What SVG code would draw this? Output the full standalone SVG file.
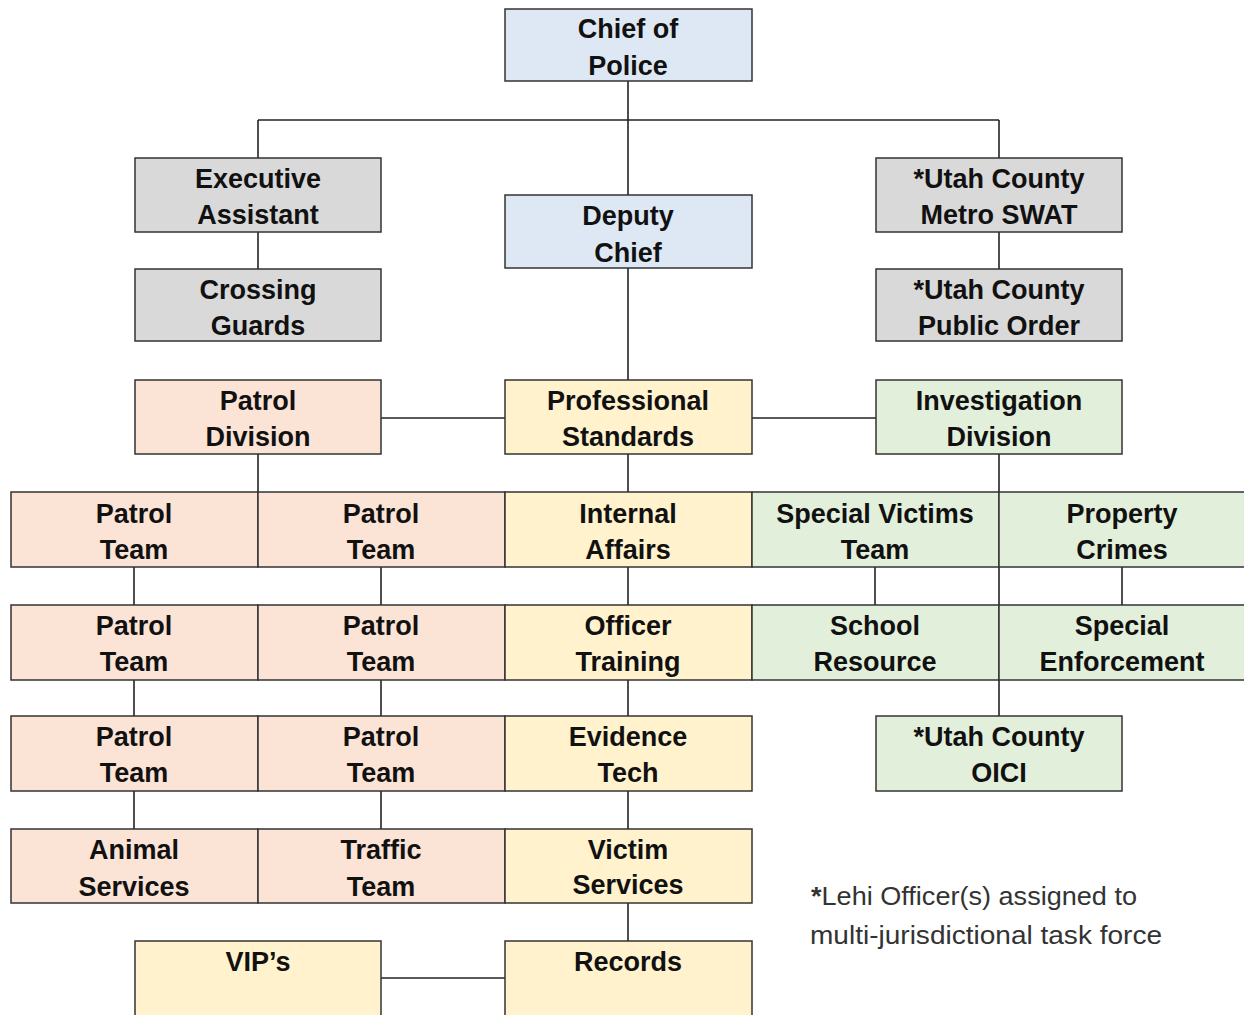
<svg xmlns="http://www.w3.org/2000/svg" width="1244" height="1015" viewBox="0 0 1244 1015">
<style>
rect{stroke:#333;stroke-width:1.5}
.b{fill:#dee8f4}.g{fill:#d9d9d9}.p{fill:#fbe3d6}.y{fill:#fff2cd}.gr{fill:#e2efda}
text{font-family:"Liberation Sans",Arial,sans-serif;font-weight:bold;font-size:27px;fill:#111;text-anchor:middle}
.c line{stroke:#222;stroke-width:1.6}
.note{font-weight:normal;font-size:26px;fill:#333;text-anchor:start}
</style>
<rect width="1244" height="1015" fill="#fff" style="stroke:none"/>
<g class="c" id="connectors">
<line x1="628" y1="81" x2="628" y2="195"/>
<line x1="258" y1="120" x2="999" y2="120"/>
<line x1="258" y1="120" x2="258" y2="158"/>
<line x1="999" y1="120" x2="999" y2="158"/>
<line x1="258" y1="232" x2="258" y2="269"/>
<line x1="999" y1="232" x2="999" y2="269"/>
<line x1="628" y1="268" x2="628" y2="380"/>
<line x1="381" y1="418" x2="505" y2="418"/>
<line x1="752" y1="418" x2="876" y2="418"/>
<line x1="258" y1="454" x2="258" y2="492"/>
<line x1="628" y1="454" x2="628" y2="492"/>
<line x1="999" y1="454" x2="999" y2="492"/>
<line x1="134" y1="567" x2="134" y2="605"/>
<line x1="381" y1="567" x2="381" y2="605"/>
<line x1="628" y1="567" x2="628" y2="605"/>
<line x1="875" y1="567" x2="875" y2="605"/>
<line x1="1122" y1="567" x2="1122" y2="605"/>
<line x1="999" y1="567" x2="999" y2="605"/>
<line x1="134" y1="680" x2="134" y2="716"/>
<line x1="381" y1="680" x2="381" y2="716"/>
<line x1="628" y1="680" x2="628" y2="716"/>
<line x1="999" y1="680" x2="999" y2="716"/>
<line x1="134" y1="791" x2="134" y2="829"/>
<line x1="381" y1="791" x2="381" y2="829"/>
<line x1="628" y1="791" x2="628" y2="829"/>
<line x1="628" y1="903" x2="628" y2="941"/>
<line x1="381" y1="978" x2="505" y2="978"/>
</g>
<g id="chief"><rect class="b" x="505" y="9" width="247" height="72"/><text x="628" y="38">Chief of</text><text x="628" y="75">Police</text></g>
<g id="exec"><rect class="g" x="135" y="158" width="246" height="74"/><text x="258" y="188">Executive</text><text x="258" y="224">Assistant</text></g>
<g id="deputy"><rect class="b" x="505" y="195" width="247" height="73"/><text x="628" y="225">Deputy</text><text x="628" y="262">Chief</text></g>
<g id="swat"><rect class="g" x="876" y="158" width="246" height="74"/><text x="999" y="188">*Utah County</text><text x="999" y="224">Metro SWAT</text></g>
<g id="crossing"><rect class="g" x="135" y="269" width="246" height="72"/><text x="258" y="299">Crossing</text><text x="258" y="335">Guards</text></g>
<g id="publicorder"><rect class="g" x="876" y="269" width="246" height="72"/><text x="999" y="299">*Utah County</text><text x="999" y="335">Public Order</text></g>
<g id="patroldiv"><rect class="p" x="135" y="380" width="246" height="74"/><text x="258" y="410">Patrol</text><text x="258" y="446">Division</text></g>
<g id="profstd"><rect class="y" x="505" y="380" width="247" height="74"/><text x="628" y="410">Professional</text><text x="628" y="446">Standards</text></g>
<g id="invdiv"><rect class="gr" x="876" y="380" width="246" height="74"/><text x="999" y="410">Investigation</text><text x="999" y="446">Division</text></g>
<g id="pt1"><rect class="p" x="11" y="492" width="247" height="75"/><text x="134" y="523">Patrol</text><text x="134" y="559">Team</text></g>
<g id="pt2"><rect class="p" x="258" y="492" width="247" height="75"/><text x="381" y="523">Patrol</text><text x="381" y="559">Team</text></g>
<g id="internal"><rect class="y" x="505" y="492" width="247" height="75"/><text x="628" y="523">Internal</text><text x="628" y="559">Affairs</text></g>
<g id="svt"><rect class="gr" x="752" y="492" width="247" height="75"/><text x="875" y="523">Special Victims</text><text x="875" y="559">Team</text></g>
<g id="property"><rect class="gr" x="999" y="492" width="250" height="75"/><text x="1122" y="523">Property</text><text x="1122" y="559">Crimes</text></g>
<g id="pt3"><rect class="p" x="11" y="605" width="247" height="75"/><text x="134" y="635">Patrol</text><text x="134" y="671">Team</text></g>
<g id="pt4"><rect class="p" x="258" y="605" width="247" height="75"/><text x="381" y="635">Patrol</text><text x="381" y="671">Team</text></g>
<g id="training"><rect class="y" x="505" y="605" width="247" height="75"/><text x="628" y="635">Officer</text><text x="628" y="671">Training</text></g>
<g id="school"><rect class="gr" x="752" y="605" width="247" height="75"/><text x="875" y="635">School</text><text x="875" y="671">Resource</text></g>
<g id="specialenf"><rect class="gr" x="999" y="605" width="250" height="75"/><text x="1122" y="635">Special</text><text x="1122" y="671">Enforcement</text></g>
<g id="pt5"><rect class="p" x="11" y="716" width="247" height="75"/><text x="134" y="746">Patrol</text><text x="134" y="782">Team</text></g>
<g id="pt6"><rect class="p" x="258" y="716" width="247" height="75"/><text x="381" y="746">Patrol</text><text x="381" y="782">Team</text></g>
<g id="evidence"><rect class="y" x="505" y="716" width="247" height="75"/><text x="628" y="746">Evidence</text><text x="628" y="782">Tech</text></g>
<g id="oici"><rect class="gr" x="876" y="716" width="246" height="75"/><text x="999" y="746">*Utah County</text><text x="999" y="782">OICI</text></g>
<g id="animal"><rect class="p" x="11" y="829" width="247" height="74"/><text x="134" y="859">Animal</text><text x="134" y="896">Services</text></g>
<g id="traffic"><rect class="p" x="258" y="829" width="247" height="74"/><text x="381" y="859">Traffic</text><text x="381" y="896">Team</text></g>
<g id="victim"><rect class="y" x="505" y="829" width="247" height="74"/><text x="628" y="859">Victim</text><text x="628" y="894">Services</text></g>
<g id="vips"><rect class="y" x="135" y="941" width="246" height="80"/><text x="258" y="971">VIP’s</text></g>
<g id="records"><rect class="y" x="505" y="941" width="247" height="80"/><text x="628" y="971">Records</text></g>
<g id="note"><text class="note" x="811" y="905" textLength="326" lengthAdjust="spacingAndGlyphs"><tspan font-weight="bold">*</tspan>Lehi Officer(s) assigned to</text><text class="note" x="810" y="944" textLength="352" lengthAdjust="spacingAndGlyphs">multi-jurisdictional task force</text></g>
</svg>
